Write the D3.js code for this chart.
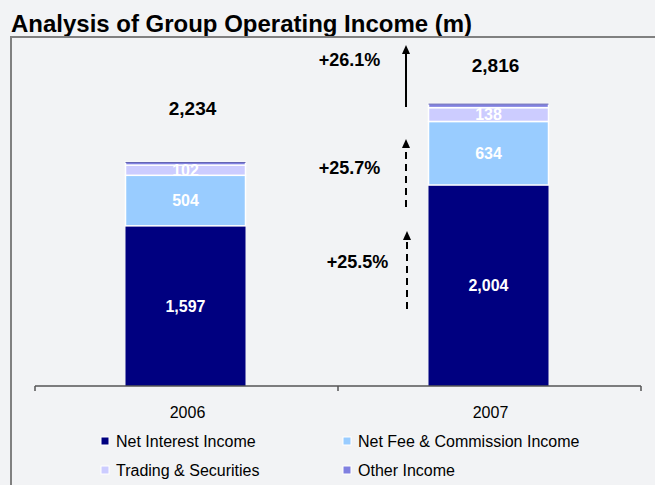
<!DOCTYPE html>
<html><head><meta charset="utf-8">
<script src="https://cdn.jsdelivr.net/npm/d3@7"></script>
<style>
html,body{margin:0;padding:0;background:#f2f3f5;}
svg{display:block;font-family:Arial,"Liberation Sans",sans-serif;}
</style></head>
<body><svg id="c" width="655" height="485"></svg>
<script>
// ---- data ----
const categories = ["2006", "2007"];
const seriesNames = ["Net Interest Income", "Net Fee & Commission Income", "Trading & Securities", "Other Income"];
const netInterest = [1597, 2004];
const netFee = [504, 634];
const trading = [102, 138];
const other = [31, 40];
const totals = [2234, 2816];
const growthLabels = ["+26.1%", "+25.7%", "+25.5%"];
const colors = ["#000080", "#99ccff", "#ccccff", "#8080e0"];

// ---- layout ----
const svg = d3.select("#c");
svg.append("rect").attr("width", 655).attr("height", 485).attr("fill", "#f2f3f5");

svg.append("text").attr("x", 11).attr("y", 32)
  .attr("font-size", 24).attr("font-weight", "bold").attr("fill", "#000")
  .attr("textLength", 461).attr("lengthAdjust", "spacingAndGlyphs")
  .text("Analysis of Group Operating Income (m)");

// frame
svg.append("path").attr("d", "M11,485 V37 H655")
  .attr("fill", "none").attr("stroke", "#808080").attr("stroke-width", 2);

const x = d3.scaleBand().domain(categories).range([35, 641]).padding(0);
const y = d3.scaleLinear().domain([0, 3500]).range([386, 35]);
const barW = 120;

const rows = categories.map((c, i) => ({cat: c, vals: [netInterest[i], netFee[i], trading[i], other[i]]}));
const stack = d3.stack().keys([0, 1, 2, 3]).value((d, k) => d.vals[k]);
const stacked = stack(rows);

const g = svg.append("g");
stacked.forEach((layer, k) => {
  g.selectAll(null).data(layer).enter().append("rect")
    .attr("x", d => x(d.data.cat) + x.bandwidth() / 2 - barW / 2 - 1)
    .attr("width", barW)
    .attr("y", d => y(d[1]))
    .attr("height", d => y(d[0]) - y(d[1]))
    .attr("fill", colors[k])
    .attr("stroke", k === 0 ? "none" : "#fff")
    .attr("stroke-width", 1.5);
});
// top line of "other" darker
g.selectAll(null).data(stacked[3]).enter().append("line")
  .attr("x1", d => x(d.data.cat) + x.bandwidth() / 2 - barW / 2 - 1)
  .attr("x2", d => x(d.data.cat) + x.bandwidth() / 2 + barW / 2 - 1)
  .attr("y1", d => y(d[1]) + 0.5).attr("y2", d => y(d[1]) + 0.5)
  .attr("stroke", "#6060b0").attr("stroke-width", 1);

// segment labels (first three series)
[0, 1, 2].forEach(k => {
  g.selectAll(null).data(stacked[k]).enter().append("text")
    .attr("x", d => x(d.data.cat) + x.bandwidth() / 2 - 1)
    .attr("y", d => (y(d[0]) + y(d[1])) / 2)
    .attr("dy", "0.36em")
    .attr("text-anchor", "middle")
    .attr("font-size", 16).attr("font-weight", "bold").attr("fill", "#fff")
    .text((d, i) => d3.format(",")(d.data.vals[k]));
});

// totals
const totalOffsets = [54, 38];
svg.selectAll(null).data(totals).enter().append("text")
  .attr("x", (d, i) => x(categories[i]) + x.bandwidth() / 2 + 6)
  .attr("y", (d, i) => y(d) - totalOffsets[i])
  .attr("dy", "0.36em").attr("text-anchor", "middle")
  .attr("font-size", 19).attr("font-weight", "bold").attr("fill", "#000")
  .text(d => d3.format(",")(d));

// axis
const axisG = svg.append("g").attr("transform", "translate(0,386)");
axisG.append("line").attr("x1", 35).attr("x2", 641).attr("stroke", "#555").attr("stroke-width", 1.5);
const tickXs = categories.map(c => x(c)).concat([x(categories[categories.length - 1]) + x.bandwidth()]);
axisG.selectAll(null).data(tickXs).enter().append("line")
  .attr("x1", d => d).attr("x2", d => d).attr("y1", 0).attr("y2", 5)
  .attr("stroke", "#555").attr("stroke-width", 1.5);
axisG.selectAll(null).data(categories).enter().append("text")
  .attr("x", d => x(d) + x.bandwidth() / 2 + 1).attr("y", 26)
  .attr("dy", "0.36em").attr("text-anchor", "middle")
  .attr("font-size", 16).attr("fill", "#000").text(d => d);

// growth annotations
const ann = [
  {tx: 349.5, ty: 60, ax: 406, y1: 107, y2: 45, dash: null},
  {tx: 349.5, ty: 168, ax: 406, y1: 207, y2: 139, dash: "7,5"},
  {tx: 357.5, ty: 262, ax: 407, y1: 309, y2: 231, dash: "7,5"}
];
ann.forEach((a, i) => {
  svg.append("text").attr("x", a.tx).attr("y", a.ty).attr("dy", "0.36em")
    .attr("text-anchor", "middle").attr("font-size", 18).attr("font-weight", "bold")
    .attr("fill", "#000").text(growthLabels[i]);
  svg.append("line").attr("x1", a.ax).attr("x2", a.ax).attr("y1", a.y1).attr("y2", a.y2 + 7)
    .attr("stroke", "#000").attr("stroke-width", 2)
    .attr("stroke-dasharray", a.dash);
  svg.append("path")
    .attr("d", `M${a.ax},${a.y2} L${a.ax - 4},${a.y2 + 9} L${a.ax + 4},${a.y2 + 9} Z`)
    .attr("fill", "#000");
});

// legend
const legPos = [[101, 441], [343, 441], [101, 470], [343, 470]];
seriesNames.forEach((n, i) => {
  const [lx, ly] = legPos[i];
  svg.append("rect").attr("x", lx).attr("y", ly - 4).attr("width", 8).attr("height", 8)
    .attr("fill", colors[i]).attr("stroke", "#fff").attr("stroke-width", 1);
  svg.append("text").attr("x", lx + 15).attr("y", ly).attr("dy", "0.36em")
    .attr("font-size", 16).attr("fill", "#000").text(n);
});
</script></body></html>
